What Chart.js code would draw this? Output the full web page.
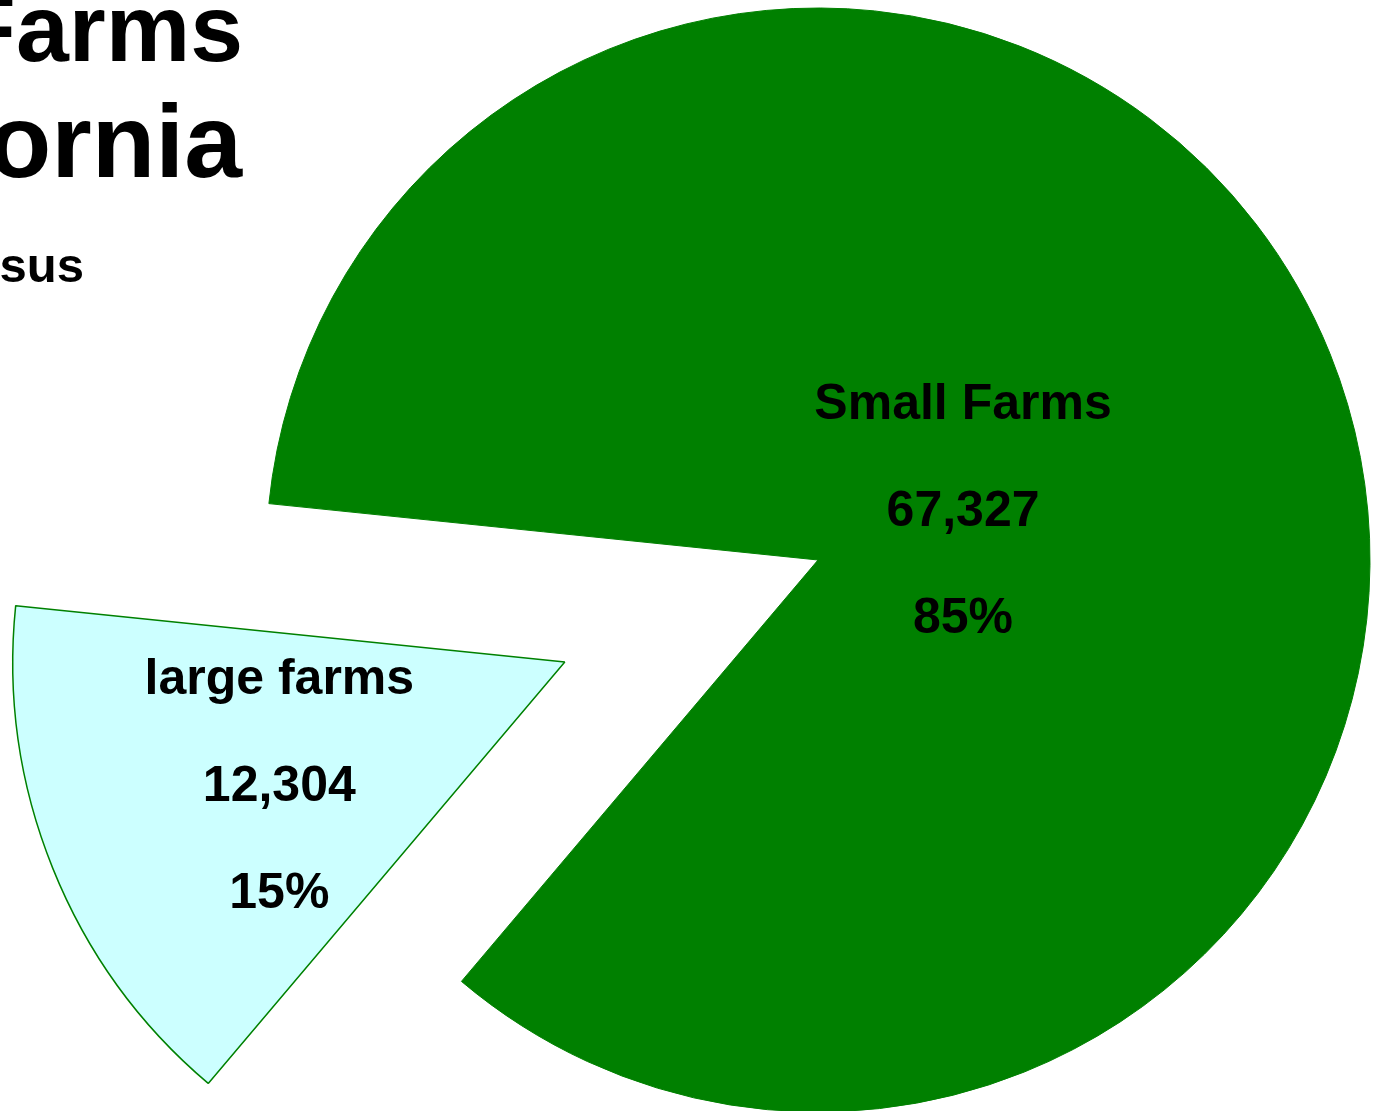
<!DOCTYPE html>
<html>
<head>
<meta charset="utf-8">
<title>Farms in California</title>
<script src="https://cdn.jsdelivr.net/npm/chart.js@4.4.1/dist/chart.umd.min.js"></script>
<style>
  html, body { margin: 0; padding: 0; background: #fff; overflow: hidden; }
  #wrap { position: relative; width: 1383px; height: 1111px; overflow: hidden; }
  #chartBox { position: absolute; left: 0; top: 0; width: 1383px; height: 1111px; }
  .title {
    position: absolute;
    white-space: nowrap;
    font-family: "Liberation Sans", Arial, Helvetica, sans-serif;
    font-weight: bold;
    line-height: 1;
    color: #000;
  }
</style>
</head>
<body>
<div id="wrap">
  <div id="chartBox"><canvas id="farmsPie"></canvas></div>
  <div class="title" style="font-size:95px; top:-19px; right:1140px;">Farms</div>
  <div class="title" style="font-size:104px; top:89px; right:1141px;">ornia</div>
  <div class="title" style="font-size:49px; top:241px; right:1299px;">sus</div>
</div>

<script>
// ================= DATA =================
const categories = ["Small Farms", "large farms"];
const farmCounts = [67327, 12304];

// ================= STYLE =================
const sliceColors = ["#008000", "#ccffff"];
const borderColors = ["#008000", "#008000"];
const borderWidths = [1, 1.5];
const PIE_RADIUS = 552;
const EXPLODE_INDEX = 1;        // "large farms" is pulled out
const EXPLODE_ANGLE = 158.05;   // direction of pull (deg, canvas coords)
const EXPLODE_DIST = 273;
const LABEL_RADIUS = [0.279, 0.562];
const LABEL_ANGLE_SHIFT = [2.3, -1.1];
const LABEL_FONT_SIZE = 50;
const LINE_GAP = 107;

const total = farmCounts.reduce((a, b) => a + b, 0);
const explodedDeg = 360 * farmCounts[EXPLODE_INDEX] / total;
// rotate so the exploded slice is centred on EXPLODE_ANGLE
const rotation = 90 + EXPLODE_ANGLE + explodedDeg / 2;

// ================= PLUGINS =================
const explodePlugin = {
  id: "explodeSlice",
  afterDatasetsUpdate(chart) {
    const arc = chart.getDatasetMeta(0).data[EXPLODE_INDEX];
    if (!arc) return;
    const mid = (arc.startAngle + arc.endAngle) / 2;
    arc.x += Math.cos(mid) * EXPLODE_DIST;
    arc.y += Math.sin(mid) * EXPLODE_DIST;
  }
};

const labelPlugin = {
  id: "sliceLabels",
  afterDatasetsDraw(chart) {
    const { ctx } = chart;
    const meta = chart.getDatasetMeta(0);
    meta.data.forEach((arc, i) => {
      const mid = (arc.startAngle + arc.endAngle) / 2 + LABEL_ANGLE_SHIFT[i] * Math.PI / 180;
      const r = arc.outerRadius * LABEL_RADIUS[i];
      const cx = arc.x + Math.cos(mid) * r;
      const cy = arc.y + Math.sin(mid) * r;
      const lines = [
        categories[i],
        farmCounts[i].toLocaleString("en-US"),
        Math.round(farmCounts[i] / total * 100) + "%"
      ];
      ctx.save();
      ctx.font = `bold ${LABEL_FONT_SIZE}px "Liberation Sans", Arial, sans-serif`;
      ctx.fillStyle = "#000";
      ctx.textAlign = "center";
      ctx.textBaseline = "alphabetic";
      const baseY = cy + LABEL_FONT_SIZE * 0.358;
      lines.forEach((t, k) => ctx.fillText(t, cx, baseY + (k - 1) * LINE_GAP));
      ctx.restore();
    });
  }
};

// ================= PIE CHART =================
new Chart(document.getElementById("farmsPie"), {
  type: "pie",
  data: {
    labels: categories,
    datasets: [{
      data: farmCounts,
      backgroundColor: sliceColors,
      borderColor: borderColors,
      borderWidth: borderWidths,
      hoverOffset: 0
    }]
  },
  options: {
    responsive: true,
    maintainAspectRatio: false,
    animation: false,
    events: [],
    rotation: rotation,
    radius: PIE_RADIUS,
    layout: {
      padding: { left: 253, top: 9, right: 0, bottom: 0 }
    },
    plugins: {
      legend: { display: false },
      tooltip: { enabled: false },
      title: { display: false }
    }
  },
  plugins: [explodePlugin, labelPlugin]
});
</script>
</body>
</html>
